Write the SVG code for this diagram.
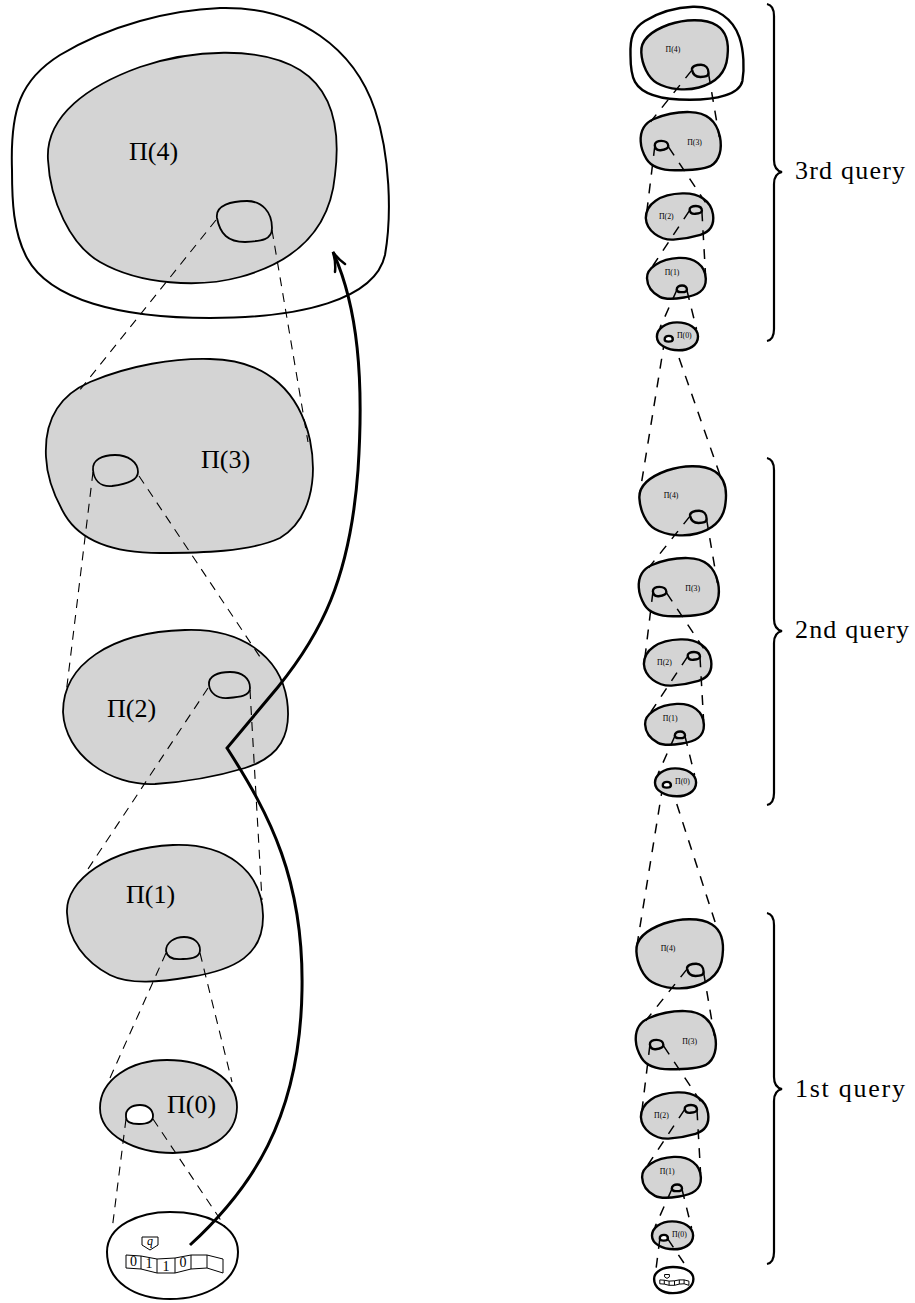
<svg xmlns="http://www.w3.org/2000/svg" xmlns:xlink="http://www.w3.org/1999/xlink" width="915" height="1303" viewBox="0 0 915 1303">
<style>
.nb{fill:#d4d4d4;stroke:#000;stroke-width:1.8;stroke-linejoin:round}
.nbs{fill:#d4d4d4;stroke:#000;stroke-width:8;stroke-linejoin:round}
.wb{fill:#fff;stroke:#000;stroke-width:2}
.wbs{fill:#fff;stroke:#000;stroke-width:8}
.lbl{fill:#000;stroke:none;font-family:"Liberation Serif",serif;font-size:26px}
.dash{fill:none;stroke:#000;stroke-width:1.1;stroke-dasharray:9 7}
.dashs{fill:none;stroke:#000;stroke-width:5;stroke-dasharray:33 30}
.dashm{fill:none;stroke:#000;stroke-width:1.5;stroke-dasharray:10 9}
.cells{fill:#fff;stroke:#000;stroke-width:1}
.cellss{fill:#fff;stroke:#000;stroke-width:3.3}
.arrow{fill:none;stroke:#000;stroke-width:3}
.ahead{fill:none;stroke:#000;stroke-width:2.5;stroke-linecap:round}
.brace{fill:none;stroke:#000;stroke-width:2.2}
.qt{font-family:"Liberation Serif",serif;font-size:26px;fill:#000}
.digit{font-family:"Liberation Serif",serif;font-size:14px;text-anchor:middle;fill:#000;stroke:none}
.qs{font-family:"Liberation Serif",serif;font-style:italic;font-size:12px;text-anchor:middle;fill:#000;stroke:none}
</style>

<!-- ===== Large column ===== -->
<g id="outer-pi4" class="wb"><path id="p-outer" d="M 12,170 C 10,110 20,80 60,55 C 110,25 170,10 220,8 C 300,6 355,50 375,110 C 390,155 392,215 385,255 C 375,300 300,318 210,318 C 120,318 50,300 27,258 C 13,232 12,200 12,170 Z"/></g>

<g id="pi4" class="nb">
<path id="p-b4" d="M 48,160 C 45,115 90,85 140,67 C 190,50 260,45 300,70 C 335,92 340,135 335,175 C 330,230 295,262 240,277 C 200,288 140,285 100,262 C 70,245 50,200 48,160 Z"/>
<path id="p-h4" d="M 217,218 C 215,205 232,201 247,201 C 262,201 272,212 272,228 C 272,240 262,241 245,242 C 228,242 220,234 217,218 Z"/>
<text class="lbl" x="129" y="160">Π(4)</text>
</g>

<g id="pi3" class="nb">
<path id="p-b3" d="M 46,457 C 44,420 60,395 90,382 C 130,365 175,358 210,359 C 270,360 300,395 310,440 C 318,480 310,520 280,538 C 250,552 200,553 160,553 C 110,553 80,540 65,515 C 55,498 47,480 46,457 Z"/>
<path id="p-h3" d="M 93,470 C 92,460 102,455 115,455 C 128,455 138,462 138,472 C 138,480 128,484 112,486 C 100,487 94,480 93,470 Z"/>
<text class="lbl" x="201" y="468">Π(3)</text>
</g>

<g id="pi2" class="nb">
<path id="p-b2" d="M 63,712 C 63,665 110,632 185,630 C 240,628 280,655 287,700 C 292,735 280,757 245,768 C 215,777 185,782 155,784 C 110,786 65,755 63,712 Z"/>
<path id="p-h2" d="M 209,685 C 208,676 218,672 230,672 C 242,672 250,678 250,688 C 250,696 240,697 228,698 C 217,699 210,693 209,685 Z"/>
<text class="lbl" x="107" y="717">Π(2)</text>
</g>

<g id="pi1" class="nb">
<path id="p-b1" d="M 67,913 C 65,880 110,848 173,845 C 225,843 262,870 263,915 C 264,955 235,970 190,977 C 160,982 130,985 110,975 C 85,962 68,940 67,913 Z"/>
<path id="p-h1" d="M 166,951 C 166,942 175,937 184,937 C 194,937 200,943 200,950 C 200,957 193,959 183,959 C 173,960 167,957 166,951 Z"/>
<text class="lbl" x="126" y="903">Π(1)</text>
</g>

<g id="pi0" class="nb">
<path id="p-b0" d="M 100,1108 C 100,1080 130,1060 167,1060 C 205,1060 237,1078 237,1107 C 237,1138 205,1153 173,1153 C 135,1153 100,1135 100,1108 Z"/>
<path id="p-h0" fill="#fff" d="M 126,1117 C 125,1109 132,1105 140,1105 C 148,1105 153,1110 153,1116 C 153,1122 147,1124 139,1124 C 131,1124 126,1122 126,1117 Z"/>
<text class="lbl" x="167" y="1113">Π(0)</text>
</g>

<g id="tm" class="wb">
<path id="p-tm" d="M 107,1252 C 107,1225 140,1212 170,1212 C 205,1212 238,1225 238,1252 C 238,1282 205,1299 170,1299 C 135,1299 107,1282 107,1252 Z"/>
<g class="cells">
<path id="p-cells" d="M 126,1255 L 141,1256 L 157,1259 L 175,1258 L 191,1255 L 207,1255 L 223,1259 L 223,1273 L 207,1268 L 191,1269 L 175,1273 L 157,1273 L 141,1269 L 126,1268 Z M 141,1256 L 141,1269 M 157,1259 L 157,1273 M 175,1258 L 175,1273 M 191,1255 L 191,1269 M 207,1255 L 207,1268"/>
<path id="p-head" d="M 142,1237 L 158,1237 L 158,1245 L 150,1250 L 142,1245 Z"/>
</g>
<text class="qs" x="150" y="1245">q</text>
<text class="digit" x="133.5" y="1266">0</text>
<text class="digit" x="149" y="1267.5">1</text>
<text class="digit" x="166" y="1271">1</text>
<text class="digit" x="183" y="1267">0</text>
</g>

<g id="connectors">
<g class="dash">
<g id="p-links">
<path d="M 216,220 L 79,391"/>
<path d="M 272,230 L 308,442"/>
<path d="M 93,472 L 66,694"/>
<path d="M 139,476 L 262,660"/>
<path d="M 208,688 L 86,872"/>
<path d="M 250,690 L 262,900"/>
<path d="M 166,953 L 110,1078"/>
<path d="M 200,953 L 232,1082"/>
</g>
<g id="p-links0">
<path d="M 126,1119 L 112,1230"/>
<path d="M 153,1119 L 226,1228"/>
</g>
</g>
<path class="arrow" d="M 190,1245 C 250,1190 300,1120 302,990 C 304,880 270,815 227,748 L 278,687 C 320,635 350,580 358,470 C 364,380 358,307 333,252"/>
<path class="ahead" d="M 345,264 Q 338,259 333,252 Q 336,262 335,272"/>
<!-- between query groups -->
<path class="dashm" d="M 664.7,340 L 640,492"/>
<path class="dashm" d="M 672.8,340 L 721,478"/>
<path class="dashm" d="M 662.8,786 L 637,945"/>
<path class="dashm" d="M 670.9,786 L 718,931"/>
</g>

<!-- ===== 3rd query (top) ===== -->
<g id="query3" transform="translate(626.9,4.4) scale(0.3)">
<g id="q3-outer" class="wbs"><use href="#p-outer"/></g>
<g id="q3-pi4" class="nbs"><use href="#p-b4"/><use href="#p-h4"/><text class="lbl" x="129" y="160">Π(4)</text></g>
<g id="q3-pi3" class="nbs"><use href="#p-b3"/><use href="#p-h3"/><text class="lbl" x="201" y="468">Π(3)</text></g>
<g id="q3-pi2" class="nbs"><use href="#p-b2"/><use href="#p-h2"/><text class="lbl" x="107" y="717">Π(2)</text></g>
<g id="q3-pi1" class="nbs"><use href="#p-b1"/><use href="#p-h1"/><text class="lbl" x="126" y="903">Π(1)</text></g>
<g id="q3-pi0" class="nbs"><use href="#p-b0"/><use href="#p-h0"/><text class="lbl" x="167" y="1113">Π(0)</text></g>
<g id="q3-links"><use href="#p-links" class="dashs"/></g>
</g>

<!-- ===== 2nd query (middle) ===== -->
<g id="query2" transform="translate(625,450.4) scale(0.3)">
<g id="q2-pi4" class="nbs"><use href="#p-b4"/><use href="#p-h4"/><text class="lbl" x="129" y="160">Π(4)</text></g>
<g id="q2-pi3" class="nbs"><use href="#p-b3"/><use href="#p-h3"/><text class="lbl" x="201" y="468">Π(3)</text></g>
<g id="q2-pi2" class="nbs"><use href="#p-b2"/><use href="#p-h2"/><text class="lbl" x="107" y="717">Π(2)</text></g>
<g id="q2-pi1" class="nbs"><use href="#p-b1"/><use href="#p-h1"/><text class="lbl" x="126" y="903">Π(1)</text></g>
<g id="q2-pi0" class="nbs"><use href="#p-b0"/><use href="#p-h0"/><text class="lbl" x="167" y="1113">Π(0)</text></g>
<g id="q2-links"><use href="#p-links" class="dashs"/></g>
</g>

<!-- ===== 1st query (bottom) ===== -->
<g id="query1" transform="translate(622,903.4) scale(0.3)">
<g id="q1-pi4" class="nbs"><use href="#p-b4"/><use href="#p-h4"/><text class="lbl" x="129" y="160">Π(4)</text></g>
<g id="q1-pi3" class="nbs"><use href="#p-b3"/><use href="#p-h3"/><text class="lbl" x="201" y="468">Π(3)</text></g>
<g id="q1-pi2" class="nbs"><use href="#p-b2"/><use href="#p-h2"/><text class="lbl" x="107" y="717">Π(2)</text></g>
<g id="q1-pi1" class="nbs"><use href="#p-b1"/><use href="#p-h1"/><text class="lbl" x="126" y="903">Π(1)</text></g>
<g id="q1-pi0" class="nbs"><use href="#p-b0"/><use href="#p-h0"/><text class="lbl" x="167" y="1113">Π(0)</text></g>
<g id="q1-tm" class="wbs"><use href="#p-tm"/><g class="cellss"><use href="#p-cells"/><use href="#p-head"/></g></g>
<g id="q1-links"><use href="#p-links" class="dashs"/><use href="#p-links0" class="dashs"/></g>
</g>

<!-- ===== Braces ===== -->
<g id="brace-3rd">
<path class="brace" d="M 767,4 C 772,5 774,9 774,16 L 774,160 C 774,167 777,171 782,172 C 777,173 774,177 774,184 L 774,329 C 774,336 772,340 767,341"/>
<text class="qt" x="795" y="179" textLength="110">3rd query</text>
</g>
<g id="brace-2nd">
<path class="brace" d="M 767,458 C 772,459 774,463 774,470 L 774,619 C 774,626 777,630 782,631 C 777,632 774,636 774,643 L 774,793 C 774,800 772,804 767,805"/>
<text class="qt" x="795" y="638" textLength="114">2nd query</text>
</g>
<g id="brace-1st">
<path class="brace" d="M 767,913 C 772,914 774,918 774,925 L 774,1077 C 774,1084 777,1088 782,1089 C 777,1090 774,1094 774,1101 L 774,1252 C 774,1259 772,1263 767,1264"/>
<text class="qt" x="795" y="1097" textLength="110">1st query</text>
</g>
</svg>
